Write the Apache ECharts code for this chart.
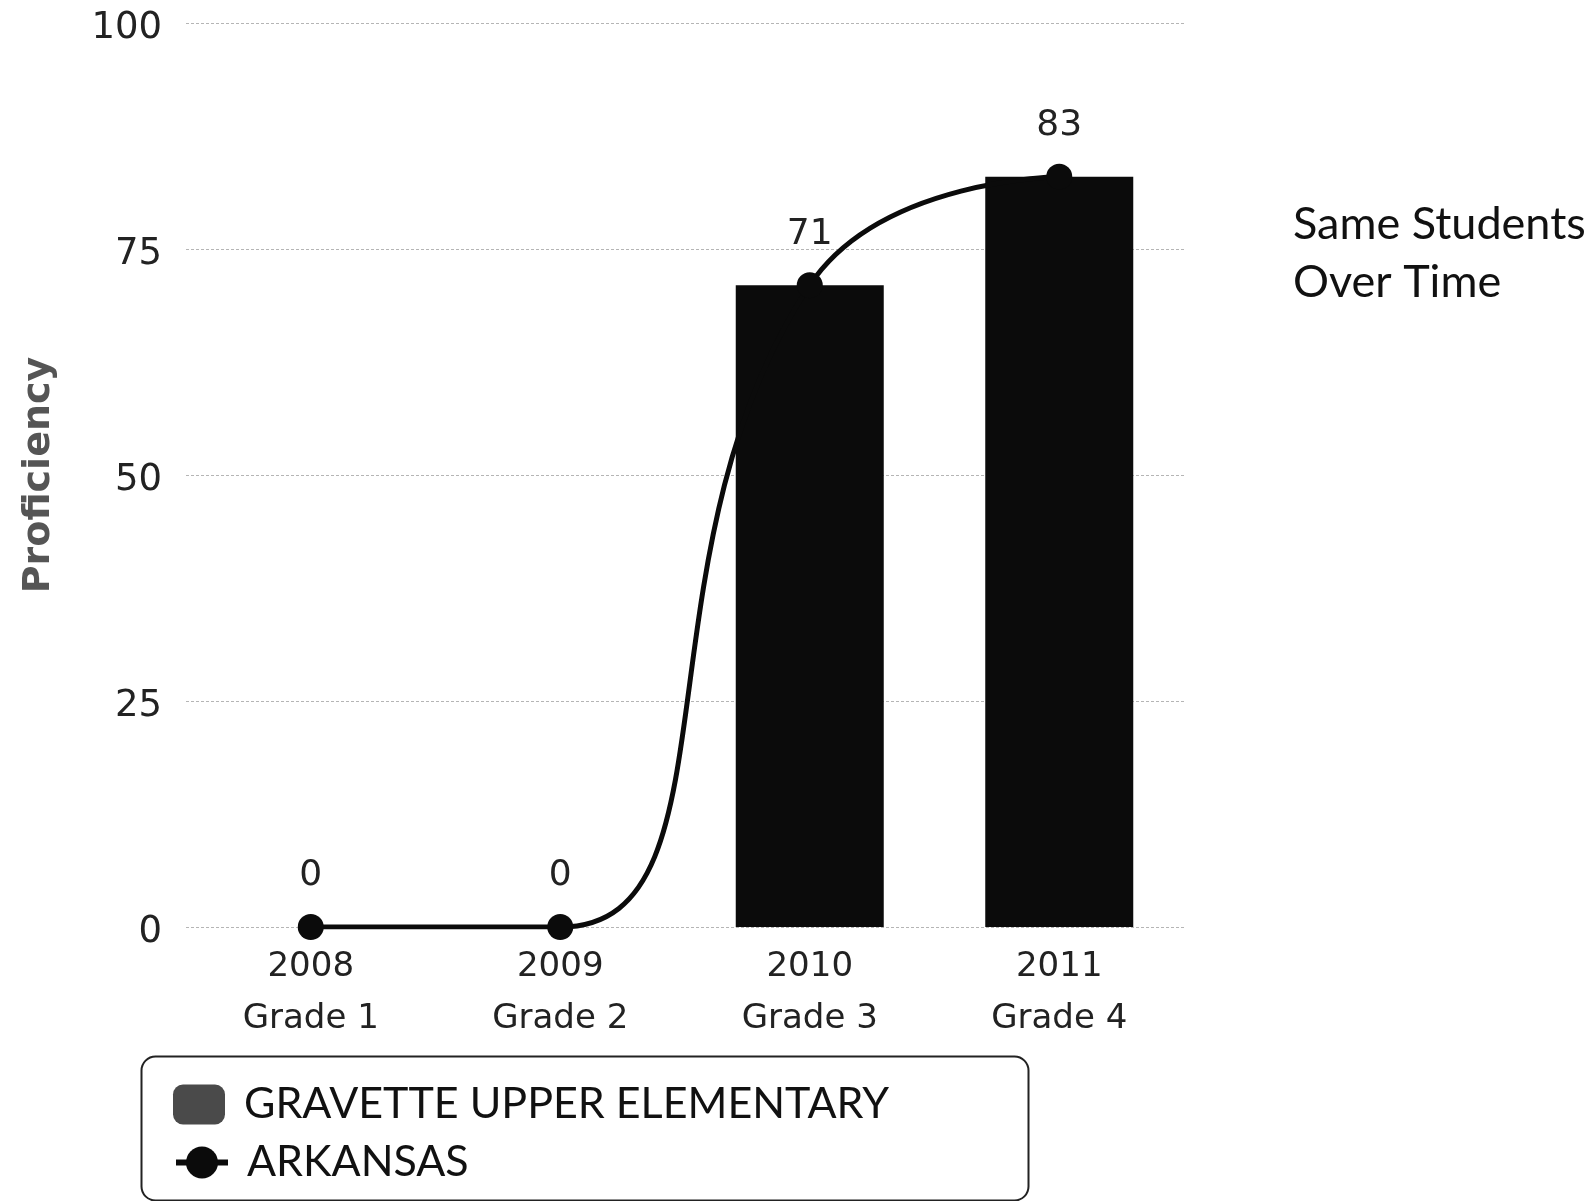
<!DOCTYPE html>
<html>
<head>
<meta charset="utf-8">
<title>Proficiency</title>
<script src="https://cdn.jsdelivr.net/npm/echarts@6/dist/echarts.min.js"></script>
<style>
  html, body { margin: 0; padding: 0; background: #fff; }
  #chart { width: 1594px; height: 1201px; }
</style>
</head>
<body>
<div id="chart"></div>
<script>
var years = ["2008", "2009", "2010", "2011"];
var grades = ["Grade 1", "Grade 2", "Grade 3", "Grade 4"];
var schoolValues = [0, 0, 71, 83];
var stateValues = [0, 0, 71, 83];
var yTicks = [0, 25, 50, 75, 100];

var schoolName = "GRAVETTE UPPER ELEMENTARY";
var stateName = "ARKANSAS";

var categories = years.map(function (y, i) {
  return y + "\n" + grades[i];
});

var myChart = echarts.init(document.getElementById("chart"));

// shared legend look, one legend per row so they stack
var legendBase = {
  orient: "horizontal",
  left: 173,
  padding: 0,
  itemWidth: 52,
  itemHeight: 40,
  textStyle: {
    color: "#111",
    fontFamily: "Lato",
    fontSize: 43,
    padding: [0, 0, 0, 14]
  }
};

var option = {
  backgroundColor: "#fff",
  animation: false,
  grid: {
    left: 186,
    right: 410,
    top: 23,
    bottom: 274
  },
  xAxis: {
    type: "category",
    data: categories,
    axisLine: { show: false },
    axisTick: { show: false },
    axisLabel: {
      color: "#222",
      fontFamily: "DejaVu Sans",
      fontSize: 34,
      lineHeight: 52,
      margin: 14
    }
  },
  yAxis: {
    type: "value",
    min: yTicks[0],
    max: yTicks[yTicks.length - 1],
    interval: 25,
    name: "Proficiency",
    nameLocation: "middle",
    nameGap: 128,
    nameTextStyle: {
      color: "#555",
      fontFamily: "DejaVu Sans",
      fontWeight: "bold",
      fontSize: 38
    },
    axisLine: { show: false },
    axisTick: { show: false },
    axisLabel: {
      color: "#222",
      fontFamily: "DejaVu Sans",
      fontSize: 37,
      margin: 24,
      verticalAlign: "top",
      lineHeight: 10
    },
    splitLine: {
      lineStyle: { color: "#b5b5b5", width: 1, type: [3, 2] }
    }
  },
  legend: [
    Object.assign({}, legendBase, {
      top: 1083,
      data: [{ name: schoolName, itemStyle: { color: "#4a4a4a" } }]
    }),
    Object.assign({}, legendBase, {
      top: 1141,
      data: [{ name: stateName, lineStyle: { width: 6 } }]
    })
  ],
  graphic: [
    {
      type: "rect",
      left: 139,
      top: 1054,
      shape: { width: 887, height: 144, r: 14 },
      style: { fill: null, stroke: "#222", lineWidth: 2 },
      z: 10
    },
    {
      type: "text",
      left: 1293,
      top: 195,
      style: {
        text: "Same Students\nOver Time",
        fill: "#111",
        font: "45px Lato",
        lineHeight: 58
      }
    }
  ],
  series: [
    {
      name: schoolName,
      type: "bar",
      data: schoolValues,
      barWidth: 148,
      itemStyle: { color: "#0b0b0b" },
      z: 2
    },
    {
      name: stateName,
      type: "line",
      data: stateValues,
      smooth: true,
      symbol: "circle",
      symbolSize: 26,
      itemStyle: { color: "#0b0b0b" },
      lineStyle: { color: "#0b0b0b", width: 5 },
      label: {
        show: true,
        position: "top",
        distance: 20,
        color: "#222",
        fontFamily: "DejaVu Sans",
        fontSize: 36
      },
      z: 3
    }
  ]
};

myChart.setOption(option);
</script>
</body>
</html>
